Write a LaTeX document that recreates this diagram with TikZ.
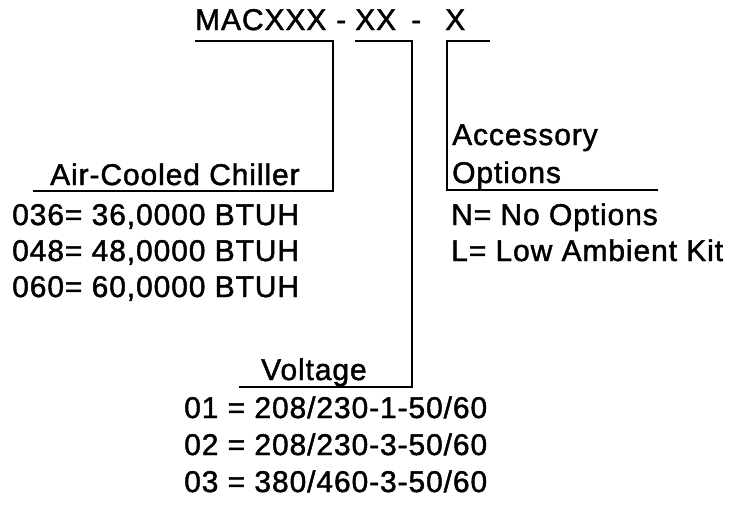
\documentclass[tikz,border=0pt]{standalone}
\usepackage{fontspec}
\setmainfont{Liberation Sans}[LetterSpace=3, FakeBold=1.5]
\usepackage{tikz}
\usetikzlibrary{positioning, calc}
\tikzset{
	codetxt/.style ={anchor=base west, inner sep=0pt, font=\fontsize{30}{36}\selectfont},
	bar/.style     ={line width=1.8pt, black},
}
\begin{document}
\begin{tikzpicture}[x=1pt, y=-1pt]
	\useasboundingbox (0,0) rectangle (735,504);
	% model code
	\node[codetxt] (nModel) at (195,30) {MACXXX};
	\node[codetxt] (nDashA) at (336,30) {-};
	\node[codetxt] (nVolt)  at (355,30) {XX};
	\node[codetxt] (nDashB) at (411,30) {-};
	\node[codetxt] (nOpt)   at (445,30) {X};
	% chiller size
	\node[codetxt] (nChiller) at (50,185) {Air-Cooled Chiller};
	\node[codetxt] (nSizeA) at (12,225) {036= 36,0000 BTUH};
	\node[codetxt] (nSizeB) at (12,261) {048= 48,0000 BTUH};
	\node[codetxt] (nSizeC) at (12,297) {060= 60,0000 BTUH};
	% voltage
	\node[codetxt] (nVoltage) at (261,380) {Voltage};
	\node[codetxt] (nVoltA) at (184,418) {01 = 208/230-1-50/60};
	\node[codetxt] (nVoltB) at (184,455) {02 = 208/230-3-50/60};
	\node[codetxt] (nVoltC) at (184,492) {03 = 380/460-3-50/60};
	% accessories
	\node[codetxt] (nAcc)     at (452,145) {Accessory};
	\node[codetxt] (nOptions) at (452,183) {Options};
	\node[codetxt] (nOptN) at (451,225) {N= No Options};
	\node[codetxt] (nOptL) at (451,261) {L= Low Ambient Kit};
	% brackets
	\coordinate (kChiller) at ([yshift=-6pt]nChiller.base west -| 333,0);
	\coordinate (kVoltage) at ([yshift=-7pt]nVoltage.base west -| 412,0);
	\coordinate (kOptions) at ([yshift=-7pt]nOptions.base west -| 658,0);
	\draw[bar] ([yshift=-11pt]nModel.base west) -| (kChiller) -- ([xshift=-17pt]kChiller -| nChiller.base west);
	\draw[bar] ([yshift=-11pt]nVolt.base west) -| (kVoltage) -- ([xshift=-22pt]kVoltage -| nVoltage.base west);
	\draw[bar] ([xshift=45pt,yshift=-11pt]nOpt.base west) -- ([xshift=2pt,yshift=-11pt]nOpt.base west) |- (kOptions);
\end{tikzpicture}
\end{document}
